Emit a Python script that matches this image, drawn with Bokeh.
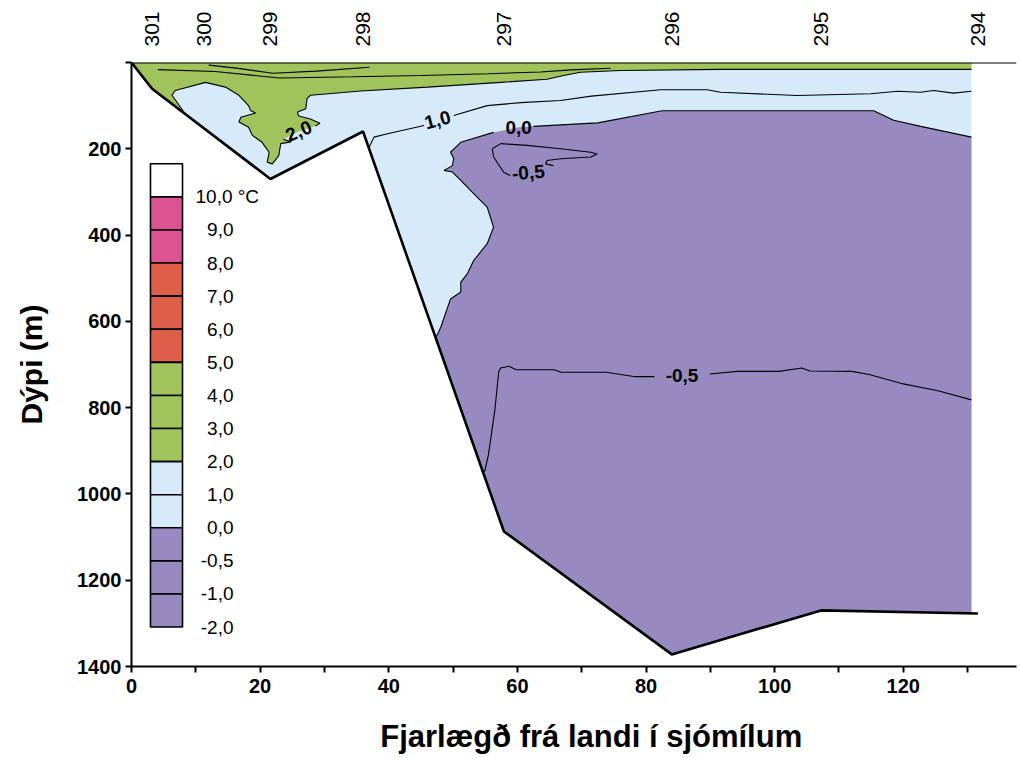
import math
import numpy as np
from bokeh.plotting import figure
from bokeh.models import Range1d, FixedTicker, LinearAxis, Span
from bokeh.core.properties import value
from bokeh.embed import file_html
from bokeh.resources import INLINE

# ---------------- data ----------------
station_names = ["301", "300", "299", "298", "297", "296", "295", "294"]
station_km = [3.2, 11.3, 21.6, 36.0, 57.9, 84.0, 107.2, 131.6]

bottom_km = [0.0, 3.2, 21.6, 36.0, 57.9, 84.0, 107.2, 131.6]
bottom_depth = [0, 61, 270, 160, 1087, 1372, 1270, 1277]

section_end_km = 130.6

# 2,0 degC isotherm (lower edge of the warm surface layer)
iso20_km = [8.4, 6.3, 6.8, 11.5, 14.6, 16.7, 18.2, 18.5, 19.3, 17.0, 16.7, 18.2,
            18.8, 20.3, 21.4, 21.1, 21.9, 22.9, 23.2, 24.8, 23.6, 26.0, 28.6,
            29.3, 27.8, 26.0, 25.8, 27.1, 27.3, 27.8, 30.2, 35.6, 46.0, 57.4,
            64.6, 67.2, 69.8, 76.0, 91.6, 130.6]
iso20_depth = [120, 76, 65, 46, 57, 76, 100, 111, 117, 127, 138, 150,
               169, 185, 208, 231, 235, 216, 188, 184, 178, 160, 147,
               141, 131, 124, 115, 107, 84, 76, 73, 66, 57, 46,
               39, 30, 22.5, 18.5, 16, 16]
iso20_label_idx = 21

# isotherms inside the warm surface layer
iso_a_km = [12.0, 16.3, 22.0, 28.7, 37.0]
iso_a_depth = [6, 13, 25, 20, 11]
iso_b_km = [4.1, 13.0, 23.0, 34.5, 45.0, 55.5, 63.6, 68.3, 74.5]
iso_b_depth = [16.5, 21, 36, 33, 30, 26, 22, 17, 13.5]

# 1,0 degC isotherm
iso10_km = [36.9, 37.7, 39.8, 45.5, 47.5, 50.1, 55.3, 60.5, 66.7, 71.5, 82.3,
            89.5, 91.6, 103.5, 114.9, 119.1, 122.7, 124.7, 127.8, 130.6]
iso10_depth = [198, 173, 165, 146, 134, 123, 100, 93, 88, 78, 63,
               63, 69, 76.5, 72.5, 66.5, 69, 65, 71, 66.5]
iso10_label_idx = 4

# 0,0 degC isotherm
iso00_km = [47.3, 48.1, 49.6, 51.2, 51.2, 52.2, 53.2, 55.3, 56.3, 55.3, 53.2,
            51.2, 49.9, 48.6, 49.9, 50.1, 49.6, 51.2, 56.3, 60.2, 62.5, 72.5,
            82.5, 115.4, 118.5, 122.7, 130.6]
iso00_depth = [639, 613, 548, 532, 509, 490, 459, 420, 382, 335, 304,
               273, 254, 250, 239, 222, 208, 185, 162, 150, 148, 140,
               112, 112, 134, 148, 173]
iso00_label_idx = 19

# -0,5 degC isotherm, upper closed cell
iso05a_km = [65.6, 64.4, 64.6, 66.7, 71.4, 72.4, 71.4, 66.7, 61.5, 57.4, 56.1,
             56.3, 57.9, 58.9]
iso05a_depth = [239, 235, 227, 223, 219, 212, 208, 200, 192, 188, 200,
                219, 255, 262]

# -0,5 degC isotherm, deep
iso05b_km = [54.9, 55.5, 56.5, 57.1, 57.4, 58.7, 59.8, 65.7, 66.8, 73.8, 78.1,
             81.3, 85.6, 89.9, 94.2, 100.7, 104.2, 105.5, 112.0, 114.7, 120.0,
             125.4, 130.6]
iso05b_depth = [949, 909, 805, 716, 708, 704, 712, 712, 718, 718, 728,
                728, 726, 722, 716, 716, 708, 715, 716, 723, 745,
                761, 782]
iso05b_label_idx = 12

contour_labels = ["2,0", "1,0", "0,0", "-0,5", "-0,5"]
contour_label_km = [26.0, 47.6, 60.2, 61.7, 85.6]
contour_label_depth = [159, 133, 150, 255, 726]
contour_label_angle = [0.40, 0.26, 0.0, 0.08, 0.0]

legend_labels = ["10,0 °C", "9,0", "8,0", "7,0", "6,0", "5,0", "4,0", "3,0",
                 "2,0", "1,0", "0,0", "-0,5", "-1,0", "-2,0"]
legend_colors = ["#FFFFFF", "#DB5491", "#DB5491", "#DD5F48", "#DD5F48", "#DD5F48",
                 "#A0C45B", "#A0C45B", "#A0C45B", "#D7EAFA", "#D7EAFA",
                 "#978AC1", "#978AC1", "#978AC1"]

x_ticks = list(range(0, 140, 10))
x_tick_labels = ["0", "", "20", "", "40", "", "60", "", "80", "", "100", "", "120", ""]
y_ticks = [0, 200, 400, 600, 800, 1000, 1200, 1400]
y_tick_labels = ["", "200", "400", "600", "800", "1000", "1200", "1400"]

x_title = "Fjarlægð frá landi í sjómílum"
y_title = "Dýpi (m)"

WARM = "#A0C45B"
MILD = "#D7EAFA"
COLD = "#978AC1"
FONT = value("Liberation Sans")

# ---------------- figure ----------------
p = figure(width=1018, height=758,
           x_range=Range1d(0, 137.6), y_range=Range1d(1400, 0),
           output_backend="svg", toolbar_location=None,
           min_border_left=131, min_border_right=2,
           min_border_top=62, min_border_bottom=92)
p.outline_line_color = None
p.xgrid.visible = False
p.ygrid.visible = False
p.background_fill_color = "white"

bk = np.array(bottom_km, float)
bd = np.array(bottom_depth, float)
end_bottom = float(np.interp(section_end_km, bk, bd))
inner = bk < section_end_km
rev_k = list(bk[inner][::-1])
rev_d = list(bd[inner][::-1])

# water column (0..2 degC)
wx = [0.0, section_end_km, section_end_km] + rev_k
wy = [0.0, 0.0, end_bottom] + rev_d
p.patch(wx, wy, fill_color=MILD, line_color=None)

# warm layer (>2 degC)
gx = [0.0, section_end_km] + iso20_km[::-1] + [bottom_km[1], 0.0]
gy = [0.0, 0.0] + iso20_depth[::-1] + [bottom_depth[1], 0.0]
p.patch(gx, gy, fill_color=WARM, line_color=None)

# cold water (<0 degC)
deep_k = [k for k in bottom_km if iso00_km[0] < k < section_end_km][::-1]
deep_d = [d for k, d in zip(bottom_km, bottom_depth) if iso00_km[0] < k < section_end_km][::-1]
cx = iso00_km + [section_end_km] + deep_k
cy = iso00_depth + [end_bottom] + deep_d
p.patch(cx, cy, fill_color=COLD, line_color=None)


def gap(vals, idx):
    out = np.array(vals, float)
    if idx is not None:
        out[idx] = np.nan
    return out


lw = 1.1
p.line(gap(iso20_km, iso20_label_idx), gap(iso20_depth, iso20_label_idx), line_color="black", line_width=lw)
p.line(iso_a_km, iso_a_depth, line_color="black", line_width=lw)
p.line(iso_b_km, iso_b_depth, line_color="black", line_width=lw)
p.line(gap(iso10_km, iso10_label_idx), gap(iso10_depth, iso10_label_idx), line_color="black", line_width=lw)
p.line(gap(iso00_km, iso00_label_idx), gap(iso00_depth, iso00_label_idx), line_color="black", line_width=lw)
p.line(iso05a_km, iso05a_depth, line_color="black", line_width=lw)
p.line(gap(iso05b_km, iso05b_label_idx), gap(iso05b_depth, iso05b_label_idx), line_color="black", line_width=lw)

p.text(x=contour_label_km, y=contour_label_depth, text=contour_labels,
       angle=contour_label_angle, text_font=FONT, text_font_style="bold",
       text_font_size="19px", text_align="center", text_baseline="middle",
       text_color="black")

# bottom profile
p.line(bottom_km, bottom_depth, line_color="black", line_width=2.6)

# sea surface line
p.add_layout(Span(location=0, dimension="width", line_color="black", line_width=2))

# ---------------- colour key ----------------
key_left, key_right = 2.95, 7.93
key_top, key_cell = 234.8, 76.7
n = len(legend_colors)
tops = [key_top + i * key_cell for i in range(n)]
bots = [key_top + (i + 1) * key_cell for i in range(n)]
p.quad(left=key_left, right=key_right, top=tops, bottom=bots,
       fill_color=legend_colors, line_color="black", line_width=1.6)
lab_y = bots
p.text(x=[9.95], y=[lab_y[0]], text=[legend_labels[0]], text_font=FONT,
       text_font_size="19px", text_align="left", text_baseline="middle",
       text_color="black")
p.text(x=[15.86] * (n - 1), y=lab_y[1:], text=legend_labels[1:], text_font=FONT,
       text_font_size="19px", text_align="right", text_baseline="middle",
       text_color="black")

# ---------------- axes ----------------
xa = p.xaxis[0]
xa.ticker = FixedTicker(ticks=x_ticks)
xa.major_label_overrides = {t: s for t, s in zip(x_ticks, x_tick_labels)}
ya = p.yaxis[0]
ya.ticker = FixedTicker(ticks=y_ticks)
ya.major_label_overrides = {t: s for t, s in zip(y_ticks, y_tick_labels)}
for ax in (xa, ya):
    ax.axis_line_width = 2
    ax.axis_line_color = "black"
    ax.major_tick_line_width = 2
    ax.major_tick_line_color = "black"
    ax.major_tick_out = 6
    ax.major_tick_in = 0
    ax.minor_tick_line_color = None
    ax.major_label_text_font = "Liberation Sans"
    ax.major_label_text_font_style = "bold"
    ax.major_label_text_font_size = "20px"
    ax.major_label_text_color = "black"
    ax.axis_label_text_font = "Liberation Sans"
    ax.axis_label_text_font_style = "bold"
    ax.axis_label_text_color = "black"
xa.major_label_standoff = 6
ya.major_label_standoff = 4
ya.axis_label = y_title
ya.axis_label_text_font_size = "30px"
ya.axis_label_standoff = 26
# centre of the reference title sits a little right of the frame centre
xa.axis_label = "\u00a0" * 4 + x_title
xa.axis_label_text_font_size = "31px"
xa.axis_label_standoff = 23

top_ax = LinearAxis(ticker=FixedTicker(ticks=station_km),
                    major_label_overrides={k: s for k, s in zip(station_km, station_names)},
                    major_label_orientation=math.pi / 2)
top_ax.axis_line_color = None
top_ax.major_tick_line_color = None
top_ax.minor_tick_line_color = None
top_ax.major_label_standoff = 10
top_ax.major_label_text_font = "Liberation Sans"
top_ax.major_label_text_font_size = "21px"
top_ax.major_label_text_color = "black"
p.add_layout(top_ax, "above")

open("out.html", "w").write(file_html(p, INLINE))
